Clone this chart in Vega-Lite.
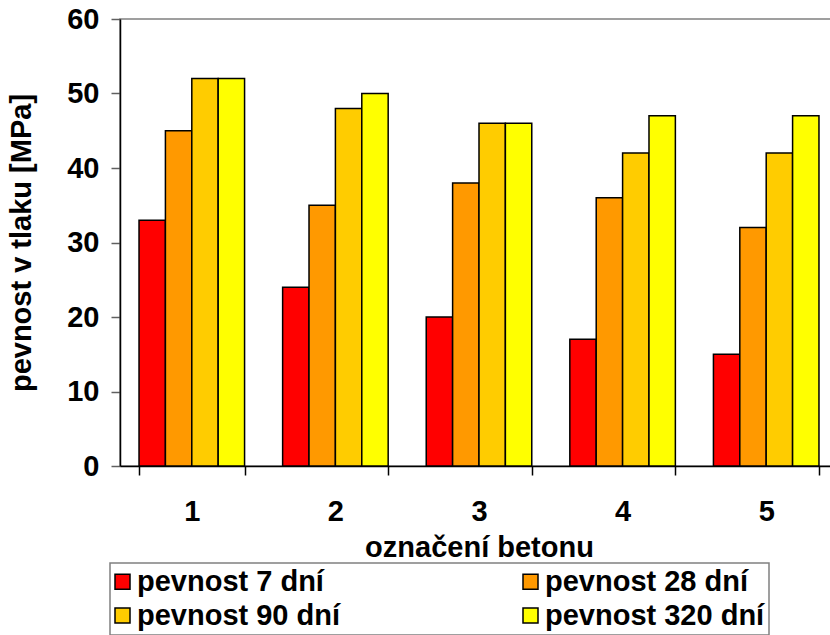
{
  "$schema": "https://vega.github.io/schema/vega-lite/v6.json",
  "autosize": "none",
  "width": 718,
  "height": 447,
  "padding": {"left": 120, "top": 19, "right": 0, "bottom": 169},
  "background": "white",
  "config": {
    "font": "Liberation Sans",
    "view": {"stroke": "#808080", "strokeWidth": 1.5},
    "axis": {
      "labelFont": "Liberation Sans",
      "labelFontSize": 29,
      "labelFontWeight": "bold",
      "labelColor": "black",
      "titleFont": "Liberation Sans",
      "titleFontSize": 29,
      "titleFontWeight": "bold",
      "titleColor": "black",
      "domainColor": "black",
      "domainWidth": 1.5,
      "tickColor": "#606060",
      "tickWidth": 1.5,
      "tickSize": 9,
      "grid": false
    },
    "legend": {
      "orient": "none",
      "legendX": -10,
      "legendY": 544,
      "direction": "horizontal",
      "columns": 2,
      "columnPadding": 179,
      "rowPadding": 4,
      "padding": 4,
      "strokeColor": "#808080",
      "strokeWidth": 1.5,
      "fillColor": "white",
      "symbolType": "square",
      "symbolSize": 225,
      "symbolOffset": -6,
      "symbolStrokeColor": "black",
      "symbolStrokeWidth": 1.5,
      "symbolOpacity": 1,
      "labelFont": "Liberation Sans",
      "labelFontSize": 29,
      "labelFontWeight": "bold",
      "labelColor": "black",
      "labelOffset": 0,
      "labelLimit": 1000
    }
  },
  "data": {
    "values": [
      {"beton": "1", "doba": "pevnost 7 dní", "pevnost": 33},
      {"beton": "1", "doba": "pevnost 28 dní", "pevnost": 45},
      {"beton": "1", "doba": "pevnost 90 dní", "pevnost": 52},
      {"beton": "1", "doba": "pevnost 320 dní", "pevnost": 52},
      {"beton": "2", "doba": "pevnost 7 dní", "pevnost": 24},
      {"beton": "2", "doba": "pevnost 28 dní", "pevnost": 35},
      {"beton": "2", "doba": "pevnost 90 dní", "pevnost": 48},
      {"beton": "2", "doba": "pevnost 320 dní", "pevnost": 50},
      {"beton": "3", "doba": "pevnost 7 dní", "pevnost": 20},
      {"beton": "3", "doba": "pevnost 28 dní", "pevnost": 38},
      {"beton": "3", "doba": "pevnost 90 dní", "pevnost": 46},
      {"beton": "3", "doba": "pevnost 320 dní", "pevnost": 46},
      {"beton": "4", "doba": "pevnost 7 dní", "pevnost": 17},
      {"beton": "4", "doba": "pevnost 28 dní", "pevnost": 36},
      {"beton": "4", "doba": "pevnost 90 dní", "pevnost": 42},
      {"beton": "4", "doba": "pevnost 320 dní", "pevnost": 47},
      {"beton": "5", "doba": "pevnost 7 dní", "pevnost": 15},
      {"beton": "5", "doba": "pevnost 28 dní", "pevnost": 32},
      {"beton": "5", "doba": "pevnost 90 dní", "pevnost": 42},
      {"beton": "5", "doba": "pevnost 320 dní", "pevnost": 47}
    ]
  },
  "mark": {"type": "bar", "stroke": "black", "strokeWidth": 1.5, "opacity": 1},
  "encoding": {
    "x": {
      "field": "beton",
      "type": "nominal",
      "scale": {"paddingInner": 0.265, "paddingOuter": 0.1325},
      "axis": {
        "title": "označení betonu",
        "labelAngle": 0,
        "tickBand": "extent",
        "tickColor": "black",
        "labelPadding": 22,
        "titlePadding": 7
      }
    },
    "xOffset": {
      "field": "doba",
      "type": "nominal",
      "sort": ["pevnost 7 dní", "pevnost 28 dní", "pevnost 90 dní", "pevnost 320 dní"],
      "scale": {"paddingInner": 0, "paddingOuter": 0}
    },
    "y": {
      "field": "pevnost",
      "type": "quantitative",
      "scale": {"domain": [0, 60], "nice": false},
      "axis": {
        "title": "pevnost v tlaku [MPa]",
        "values": [0, 10, 20, 30, 40, 50, 60],
        "labelPadding": 12,
        "titlePadding": 30
      }
    },
    "color": {
      "field": "doba",
      "type": "nominal",
      "sort": ["pevnost 7 dní", "pevnost 28 dní", "pevnost 90 dní", "pevnost 320 dní"],
      "scale": {
        "domain": ["pevnost 7 dní", "pevnost 28 dní", "pevnost 90 dní", "pevnost 320 dní"],
        "range": ["#FF0000", "#FF9900", "#FFCC00", "#FFFF00"]
      },
      "legend": {
        "title": null,
        "labelExpr": "datum.label == 'pevnost 320 dní' ? datum.label + '\u00a0\u00a0\u00a0' : datum.label"
      }
    }
  }
}
